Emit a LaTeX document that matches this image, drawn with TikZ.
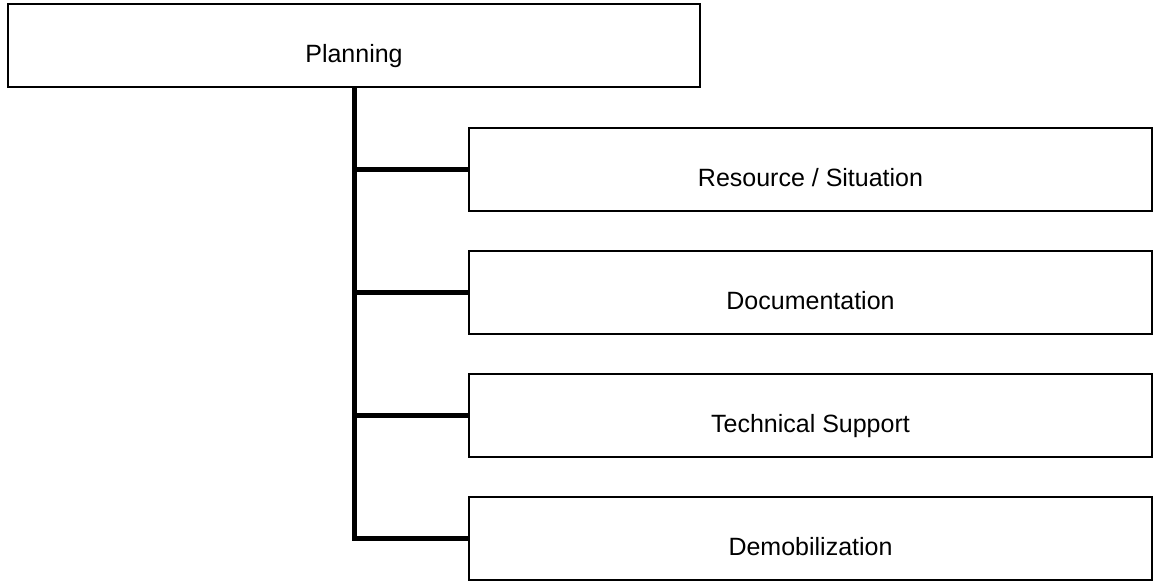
\documentclass[tikz,border=0pt]{standalone}
\usepackage{fontspec}
\setmainfont{Liberation Sans}
\usetikzlibrary{positioning}
\tikzstyle{every node}=[font=\fontsize{12.5}{15}\selectfont]
\tikzstyle{every path}=[line cap=butt,line join=miter]
\tikzstyle{box}=[draw,line width=0.6pt,rectangle,inner sep=0pt,minimum height=41.5pt,text height=17pt,text depth=0pt]
\tikzstyle{trunk}=[line width=2.5pt]

\begin{document}
\begin{tikzpicture}[x=0.5pt,y=-0.5pt]
  \useasboundingbox (0,0) rectangle (1160,582);
  \node[box,minimum width=346pt] (plan) at (354,45.5) {Planning};
  \node[box,minimum width=341.5pt] (res) at (810.5,169.5) {Resource / Situation};
  \node[box,minimum width=341.5pt] (doc) at (810.5,292.5) {Documentation};
  \node[box,minimum width=341.5pt] (tech) at (810.5,415.5) {Technical Support};
  \node[box,minimum width=341.5pt] (demob) at (810.5,538.5) {Demobilization};
  \draw[trunk] (plan.south) |- (demob.west)
  (plan.south |- res.west) -- (res.west)
  (plan.south |- doc.west) -- (doc.west)
  (plan.south |- tech.west) -- (tech.west);
\end{tikzpicture}
\end{document}
